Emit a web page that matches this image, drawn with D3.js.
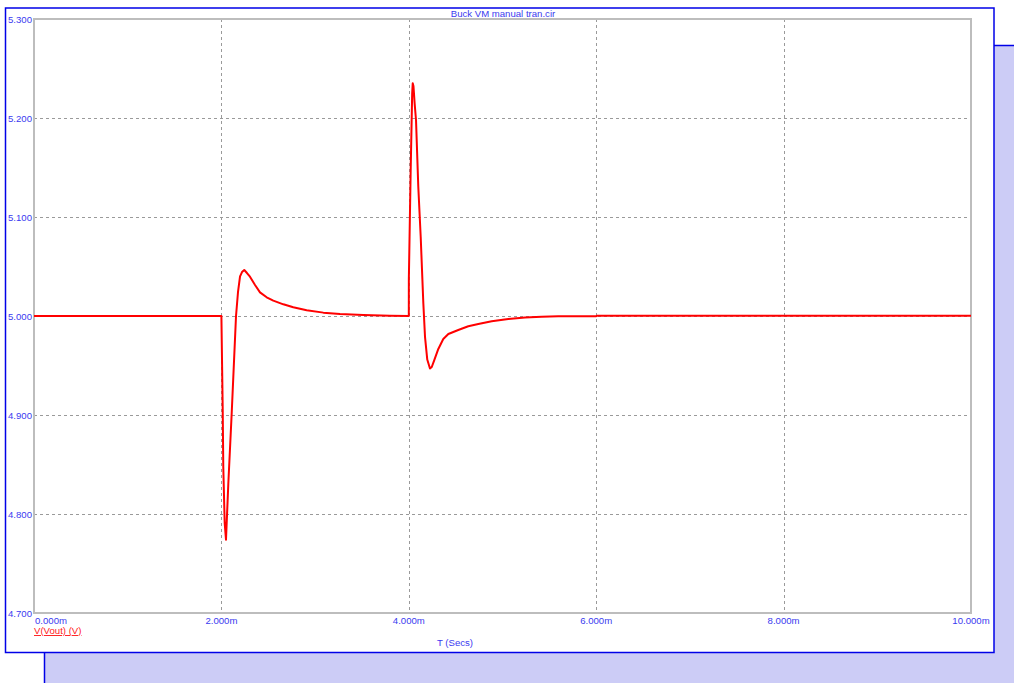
<!DOCTYPE html>
<html>
<head>
<meta charset="utf-8">
<script src="https://cdn.jsdelivr.net/npm/d3@7.9.0/dist/d3.min.js"></script>
<style>
  html, body { margin: 0; padding: 0; background: #fff; }
  svg { display: block; }
  text { font-family: "Liberation Sans", Arial, sans-serif; font-size: 9.6px; }
</style>
</head>
<body>
<div id="chart"></div>
<script>
// time in ms, output voltage in V
const timeMs = [
  0, 2.0, 2.014, 2.02, 2.035, 2.049, 2.074, 2.11, 2.156, 2.177, 2.199, 2.22,
  2.244, 2.273, 2.305, 2.359, 2.412, 2.483, 2.554, 2.661, 2.767, 2.91, 3.088,
  3.266, 3.514, 3.799, 4.0, 4.0005, 4.02, 4.036, 4.042, 4.05, 4.062, 4.077,
  4.101, 4.127, 4.155, 4.173, 4.197, 4.226, 4.245, 4.27, 4.315, 4.368, 4.422,
  4.528, 4.635, 4.742, 4.885, 5.062, 5.24, 5.418, 5.595, 6.0, 6.01, 10.0
];
const voltage = [
  5.0, 5.0, 4.905, 4.848, 4.791, 4.774, 4.831, 4.902, 5.0, 5.024, 5.04, 5.0444,
  5.0465, 5.0434, 5.0397, 5.0313, 5.0239, 5.0189, 5.0155, 5.0118, 5.0088, 5.0058, 5.0034,
  5.002, 5.001, 5.0003, 5.0, 5.037, 5.147, 5.225, 5.235, 5.232, 5.215, 5.198,
  5.131, 5.08, 5.013, 4.979, 4.956, 4.947, 4.9485, 4.955, 4.9667, 4.9768, 4.9818,
  4.9859, 4.9896, 4.9919, 4.9946, 4.997, 4.9985, 4.9993, 4.9997, 4.9998, 5.0003, 5.0003
];
const xTicks = [0, 2, 4, 6, 8, 10];
const xTickLabels = ["0.000m", "2.000m", "4.000m", "6.000m", "8.000m", "10.000m"];
const yTicks = [4.7, 4.8, 4.9, 5.0, 5.1, 5.2, 5.3];
const yTickLabels = ["4.700", "4.800", "4.900", "5.000", "5.100", "5.200", "5.300"];
const title = "Buck VM manual tran.cir";
const seriesName = "V(Vout) (V)";
const xTitle = "T (Secs)";

const width = 1014;
const height = 683;
const plot = { left: 34, right: 971, top: 19, bottom: 613 };
const blue = "#0000e8";
const textBlue = "#3a3af0";

const svg = d3.select("#chart").append("svg")
  .attr("width", width)
  .attr("height", height);

// drop shadow panel behind the frame
svg.append("rect")
  .attr("x", 44.5).attr("y", 45.5)
  .attr("width", 1000).attr("height", 700)
  .attr("fill", "#ccccf6")
  .attr("stroke", blue).attr("stroke-width", 1.5);

// main frame
svg.append("rect")
  .attr("x", 5.5).attr("y", 8)
  .attr("width", 988.5).attr("height", 644.5)
  .attr("fill", "#fff")
  .attr("stroke", blue).attr("stroke-width", 1.5);

const x = d3.scaleLinear().domain([0, 10]).range([plot.left, plot.right]);
const y = d3.scaleLinear().domain([4.7, 5.3]).range([plot.bottom, plot.top]);

// grid
const grid = svg.append("g").attr("stroke", "#9a9a9a").attr("stroke-dasharray", "3,3").attr("stroke-width", 1);
grid.selectAll("line.v")
  .data(xTicks.slice(1, -1))
  .join("line")
  .attr("class", "v")
  .attr("x1", (d) => Math.round(x(d)) + 0.5).attr("x2", (d) => Math.round(x(d)) + 0.5)
  .attr("y1", plot.top).attr("y2", plot.bottom);
grid.selectAll("line.h")
  .data(yTicks.slice(1, -1))
  .join("line")
  .attr("class", "h")
  .attr("x1", plot.left).attr("x2", plot.right)
  .attr("y1", (d) => Math.round(y(d)) + 0.5).attr("y2", (d) => Math.round(y(d)) + 0.5);

// plot border
svg.append("rect")
  .attr("x", plot.left).attr("y", plot.top)
  .attr("width", plot.right - plot.left).attr("height", plot.bottom - plot.top)
  .attr("fill", "none")
  .attr("stroke", "#bdbdbd").attr("stroke-width", 2);

// tick labels
svg.append("g").selectAll("text")
  .data(yTicks)
  .join("text")
  .attr("x", plot.left - 2)
  .attr("y", (d) => y(d) + 3.5)
  .attr("text-anchor", "end")
  .attr("fill", textBlue)
  .text((d, i) => yTickLabels[i]);

svg.append("g").selectAll("text")
  .data(xTicks)
  .join("text")
  .attr("x", (d) => (d === 0 ? plot.left + 1 : x(d)))
  .attr("y", 624)
  .attr("text-anchor", (d) => (d === 0 ? "start" : "middle"))
  .attr("fill", textBlue)
  .text((d, i) => xTickLabels[i]);

// titles
svg.append("text")
  .attr("x", 503).attr("y", 17)
  .attr("text-anchor", "middle")
  .attr("fill", textBlue)
  .text(title);

svg.append("text")
  .attr("x", 455).attr("y", 646)
  .attr("text-anchor", "middle")
  .attr("fill", textBlue)
  .text(xTitle);

svg.append("text")
  .attr("x", plot.left).attr("y", 634)
  .attr("fill", "#ff2020")
  .attr("text-decoration", "underline")
  .text(seriesName);

// waveform
const points = timeMs.map((t, i) => [t, voltage[i]]);
const line = d3.line()
  .x((d) => x(d[0]))
  .y((d) => y(d[1]));

svg.append("path")
  .datum(points)
  .attr("fill", "none")
  .attr("stroke", "#ff0000")
  .attr("stroke-width", 2)
  .attr("stroke-linejoin", "round")
  .attr("d", line);
</script>
</body>
</html>
